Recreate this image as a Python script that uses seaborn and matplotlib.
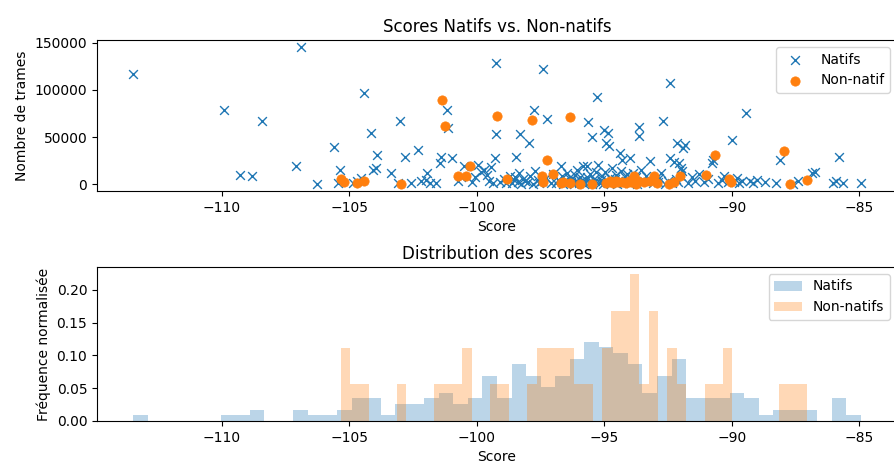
import matplotlib
matplotlib.use('Agg')
import matplotlib.pyplot as plt
import seaborn as sns

# Scores natifs / non-natifs : score vs nombre de trames

natif_score = [
    -113.46, -109.92, -109.27, -108.82, -108.40, -107.10, -106.90, -106.27, -105.60,
    -105.42, -105.37, -104.85, -104.70, -104.55, -104.40, -104.13, -104.06, -103.93,
    -103.91, -103.36, -103.10, -103.00, -102.80, -102.57, -102.30, -102.20, -101.98,
    -101.94, -101.85, -101.60, -101.42, -101.39, -101.17, -101.13, -100.96, -100.75,
    -100.60, -100.48, -100.20, -100.05, -99.95, -99.85,
    -99.70, -99.60, -99.50, -99.45, -99.35, -99.28, -99.25, -99.23,
    -99.10, -98.95, -98.85, -98.70,
    -98.60, -98.55, -98.50, -98.46, -98.40, -98.35, -98.30, -98.25, -98.18, -98.10,
    -98.00, -97.96, -97.90, -97.80, -97.74, -97.70, -97.60, -97.55,
    -97.45, -97.39, -97.30, -97.23, -97.10, -97.00,
    -96.88, -96.80, -96.71, -96.65, -96.60, -96.50, -96.45, -96.40,
    -96.30, -96.25, -96.20, -96.15, -96.10, -96.05, -96.00, -95.95, -95.90, -95.85, -95.82,
    -95.75, -95.72, -95.68, -95.66, -95.64, -95.60, -95.55, -95.50, -95.47, -95.42,
    -95.36, -95.32, -95.30, -95.26,
    -95.18, -95.12, -95.08, -95.04, -95.00, -94.98, -94.95, -94.90, -94.85, -94.80,
    -94.78, -94.72, -94.68,
    -94.62, -94.58, -94.55, -94.50, -94.45, -94.39, -94.35, -94.30, -94.25, -94.20,
    -94.15, -94.10,
    -94.03, -93.98, -93.93, -93.88, -93.80, -93.75, -93.70, -93.65, -93.62, -93.55,
    -93.45, -93.35, -93.20, -93.10, -93.00,
    -92.90, -92.85, -92.78, -92.69, -92.60, -92.52, -92.44, -92.41,
    -92.33, -92.27, -92.20, -92.15, -92.10, -92.07, -92.00, -91.98, -91.94, -91.91, -91.83,
    -91.70, -91.55, -91.45, -91.30,
    -91.10, -90.95, -90.78, -90.75,
    -90.55, -90.40, -90.30, -90.15,
    -90.00, -89.90, -89.80, -89.70, -89.60,
    -89.45, -89.30, -89.15, -89.00,
    -88.70, -88.25, -88.11, -87.60, -87.40, -86.85, -86.72,
    -86.03, -85.90, -85.78, -85.64, -84.95,
]
natif_frames = [
    116600, 79000, 9400, 8700, 66800, 19800, 145400, 600, 39300,
    1200, 14900, 1000, 3500, 7000, 96300, 54000, 15600, 17000,
    31300, 12200, 1500, 67100, 29200, 1000, 36500, 4000, 5000,
    12200, 1000, 1500, 22600, 28500, 78300, 59200, 27900, 3000,
    7500, 19100, 2000, 8000, 20900, 13000,
    15000, 10000, 4000, 18000, 1500, 27900, 52900, 128700,
    2500, 6000, 1000, 9000,
    1000, 4500, 8000, 28900, 2000, 12000, 53200, 500, 6000, 3000,
    2000, 43500, 9000, 500, 78300, 14000, 5000, 1500,
    3000, 121800, 7000, 69600, 1000, 11000,
    1500, 5000, 19100, 9000, 500, 3000, 12000, 7000,
    2000, 6000, 500, 10000, 3500, 15000, 1000, 8000, 4000, 19000, 1500,
    1000, 4500, 8000, 19100, 66100, 2000, 11000, 500, 49800, 6000,
    3000, 13000, 92200, 20900,
    1500, 5000, 9000, 500, 57000, 13000, 43500, 3000, 54000, 40700,
    7000, 1000, 17000,
    2000, 6000, 10000, 800, 4000, 33100, 14000, 26100, 1500, 8000,
    3000, 11000,
    1000, 27900, 5000, 12000, 2500, 8000, 500, 60900, 51100, 15000,
    3000, 9000, 24300, 1000, 6000,
    2000, 7000, 12000, 67100, 500, 4000, 28200, 107200,
    1000, 24000, 6000, 43500, 2500, 23000, 9000, 17700, 13600, 38600, 41800,
    1500, 8000, 3000, 11000,
    2000, 6000, 23000, 26000,
    1000, 4500, 9000, 2000,
    47000, 2500, 7000, 1000, 4000,
    75500, 3000, 1000, 5000,
    2000, 1500, 25400, 500, 3000, 12000, 12800,
    1000, 4000, 28900, 1000, 1000,
]

nonnatif_score = [
    -105.32, -105.20, -104.70, -104.42, -102.98, -101.36, -101.25, -100.74, -100.41,
    -100.26, -99.21, -98.82, -97.85, -97.45, -97.42, -97.23, -97.00, -96.71, -96.60,
    -96.35, -96.33, -95.94, -95.50, -94.95, -94.78, -94.65, -94.55, -94.45, -94.30,
    -94.15, -94.05, -93.95, -93.85, -93.75, -93.68, -93.45, -93.20, -93.05, -92.95,
    -92.45, -92.25, -92.05, -91.03, -90.65, -90.10, -90.02, -87.94, -87.72, -87.05,
]
nonnatif_frames = [
    5200, 2500, 1000, 3500, 500, 88700, 61600, 8700, 8700,
    19800, 72000, 6000, 67800, 8700, 2000, 26100, 10400, 1500, 2500,
    1200, 71300, 500, 200, 1500, 3500, 1500, 3000, 2000, 2500,
    1000, 3500, 2000, 8700, 500, 3000, 2000, 3000, 8700, 1500,
    500, 2500, 8700, 9700, 31300, 6000, 2800, 34800, 200, 4200,
]

fig = plt.figure(figsize=(8.95, 4.62), dpi=100)
ax1 = fig.add_axes([97/895, 1 - 191/462, 800/895, 151/462])
ax2 = fig.add_axes([97/895, 1 - 421/462, 800/895, 154/462])

sns.scatterplot(x=natif_score, y=natif_frames, marker='x', color='C0', s=40,
                linewidth=1, label='Natifs', ax=ax1)
sns.scatterplot(x=nonnatif_score, y=nonnatif_frames, marker='o', color='C1', s=45,
                edgecolor='C1', linewidth=0.5, label='Non-natif', ax=ax1)
ax1.set_title('Scores Natifs vs. Non-natifs')
ax1.set_xlabel('Score')
ax1.set_ylabel('Nombre de trames')
ax1.legend(loc='upper right')

sns.histplot(x=natif_score, bins=50, stat='density', color='C0', alpha=0.3,
             linewidth=0, label='Natifs', ax=ax2)
sns.histplot(x=nonnatif_score, bins=50, stat='density', color='C1', alpha=0.3,
             linewidth=0, label='Non-natifs', ax=ax2)
ax2.set_xlim(ax1.get_xlim())
ax2.set_title('Distribution des scores')
ax2.set_xlabel('Score')
ax2.set_ylabel('Fréquence normalisée')
ax2.legend(loc='upper right')

fig.savefig('out.png', dpi=100)
